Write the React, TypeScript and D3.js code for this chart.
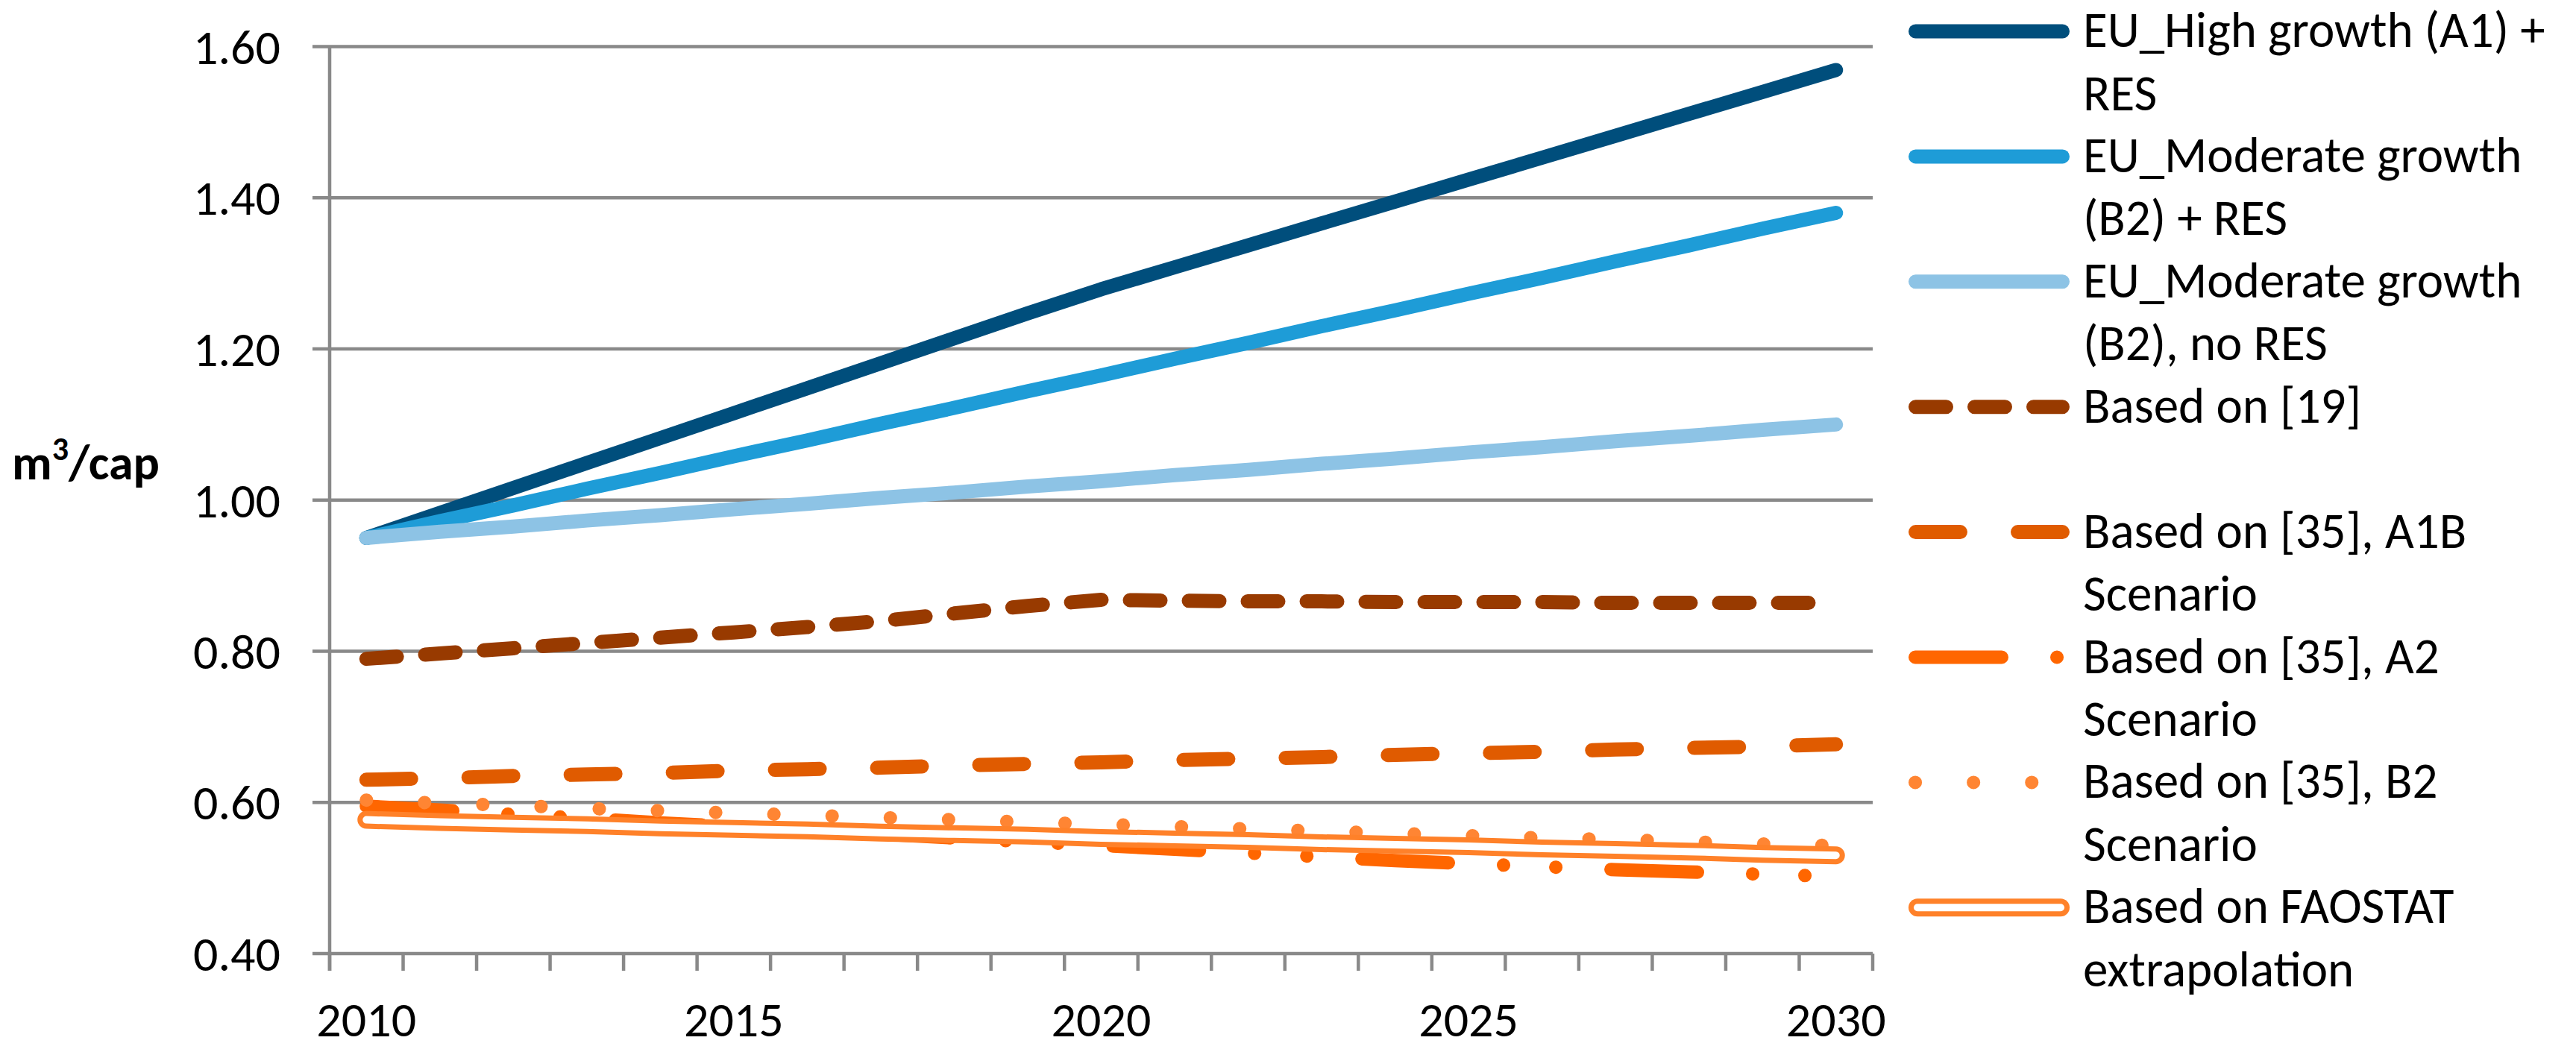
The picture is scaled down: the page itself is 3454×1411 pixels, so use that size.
import React, { useEffect, useRef } from 'react';
import * as d3 from 'd3';

// categories and tick labels
const years = [
  '2010', '2011', '2012', '2013', '2014', '2015', '2016', '2017', '2018', '2019', '2020',
  '2021', '2022', '2023', '2024', '2025', '2026', '2027', '2028', '2029', '2030',
];
const xLabels = ['2010', '2015', '2020', '2025', '2030'];
const yTicks = [0.4, 0.6, 0.8, 1.0, 1.2, 1.4, 1.6];

// series values (m3 per capita)
const highGrowthRes = [
  0.95, 0.983, 1.016, 1.049, 1.082, 1.115, 1.148, 1.181, 1.214, 1.247, 1.279,
  1.308, 1.337, 1.366, 1.395, 1.424, 1.453, 1.482, 1.511, 1.54, 1.569,
];
const moderateRes = [
  0.95, 0.972, 0.993, 1.015, 1.036, 1.058, 1.079, 1.101, 1.122, 1.144, 1.165,
  1.187, 1.208, 1.23, 1.251, 1.273, 1.294, 1.316, 1.337, 1.359, 1.38,
];
const moderateNoRes = [
  0.95, 0.958, 0.965, 0.973, 0.98, 0.988, 0.995, 1.003, 1.01, 1.018, 1.025,
  1.033, 1.04, 1.048, 1.055, 1.063, 1.07, 1.078, 1.085, 1.093, 1.1,
];
const basedOn19 = [
  0.79, 0.797, 0.804, 0.811, 0.818, 0.825, 0.832, 0.84, 0.85, 0.86, 0.868,
  0.867, 0.866, 0.866, 0.865, 0.865, 0.865, 0.864, 0.864, 0.864, 0.864,
];
const a1b = [
  0.63, 0.632, 0.635, 0.637, 0.639, 0.642, 0.644, 0.646, 0.649, 0.651, 0.653,
  0.656, 0.658, 0.66, 0.663, 0.665, 0.667, 0.67, 0.672, 0.674, 0.677,
];
const a2 = [
  0.595, 0.59, 0.584, 0.579, 0.573, 0.568, 0.563, 0.558, 0.553, 0.548, 0.543,
  0.538, 0.533, 0.528, 0.523, 0.519, 0.515, 0.511, 0.508, 0.505, 0.502,
];
const b2 = [
  0.603, 0.599, 0.596, 0.592, 0.589, 0.586, 0.583, 0.58, 0.577, 0.574, 0.571,
  0.568, 0.565, 0.562, 0.559, 0.556, 0.553, 0.551, 0.548, 0.545, 0.543,
];
const faostat = [
  0.577, 0.574, 0.572, 0.57, 0.567, 0.565, 0.563, 0.56, 0.558, 0.556, 0.553,
  0.551, 0.549, 0.546, 0.544, 0.542, 0.539, 0.537, 0.535, 0.532, 0.53,
];

const seriesValues = [highGrowthRes, moderateRes, moderateNoRes, basedOn19, a1b, a2, b2, faostat];
const seriesNames = [
  ['EU_High growth (A1) +', 'RES'],
  ['EU_Moderate growth', '(B2) + RES'],
  ['EU_Moderate growth', '(B2), no RES'],
  ['Based on [19]'],
  ['Based on [35], A1B', 'Scenario'],
  ['Based on [35], A2', 'Scenario'],
  ['Based on [35], B2', 'Scenario'],
  ['Based on FAOSTAT', 'extrapolation'],
];

type LineStyle = { color: string; width: number; dash?: string; double?: boolean };
const lineStyles: LineStyle[] = [
  { color: '#004E7C', width: 19 },
  { color: '#1E9CD7', width: 19 },
  { color: '#8DC3E5', width: 19 },
  { color: '#983A00', width: 19, dash: '41 38' },
  { color: '#E05B00', width: 19, dash: '60 77' },
  { color: '#FF6600', width: 18, dash: '116 74 0.1 70 0.1 74' },
  { color: '#FF8533', width: 18, dash: '0.1 78' },
  { color: '#FF8129', width: 24, double: true },
];

const FONT = "Carlito, Lato, 'Open Sans', sans-serif";
const FS = 66;

const App: React.FC = () => {
  const svgRef = useRef<SVGSVGElement | null>(null);

  useEffect(() => {
    if (!svgRef.current) return;
    const W = 3454;
    const H = 1411;
    const plot = { left: 442, right: 2511, top: 62.5, bottom: 1279 };
    const gridColor = '#898989';

    const svg = d3.select(svgRef.current).attr('width', W).attr('height', H);
    svg.selectAll('*').remove();
    svg.append('rect').attr('width', W).attr('height', H).attr('fill', '#fff');

    const x = d3.scaleBand<string>().domain(years).range([plot.left, plot.right]).padding(0);
    const y = d3.scaleLinear().domain([0.4, 1.6]).range([plot.bottom, plot.top]);
    const cx = (yr: string) => (x(yr) ?? 0) + x.bandwidth() / 2;

    // gridlines + left ticks
    yTicks.forEach(t => {
      svg
        .append('line')
        .attr('x1', plot.left - 23)
        .attr('x2', plot.right)
        .attr('y1', y(t))
        .attr('y2', y(t))
        .attr('stroke', gridColor)
        .attr('stroke-width', 4.5);
      svg
        .append('text')
        .attr('x', 376)
        .attr('y', y(t) + 23)
        .attr('text-anchor', 'end')
        .attr('font-family', FONT)
        .attr('font-size', FS)
        .attr('fill', '#000')
        .text(d3.format('.2f')(t));
    });

    // y axis line
    svg
      .append('line')
      .attr('x1', plot.left)
      .attr('x2', plot.left)
      .attr('y1', plot.top)
      .attr('y2', plot.bottom + 23)
      .attr('stroke', gridColor)
      .attr('stroke-width', 4.5);

    // x ticks at category boundaries
    const bounds = years.map(yr => x(yr) ?? 0).concat([plot.right]);
    bounds.forEach(bx => {
      svg
        .append('line')
        .attr('x1', bx)
        .attr('x2', bx)
        .attr('y1', plot.bottom)
        .attr('y2', plot.bottom + 23)
        .attr('stroke', gridColor)
        .attr('stroke-width', 4.5);
    });

    xLabels.forEach(lbl => {
      svg
        .append('text')
        .attr('x', cx(lbl))
        .attr('y', 1390)
        .attr('text-anchor', 'middle')
        .attr('font-family', FONT)
        .attr('font-size', FS)
        .attr('fill', '#000')
        .text(lbl);
    });

    // y axis title
    const title = svg
      .append('text')
      .attr('x', 16)
      .attr('y', 643)
      .attr('font-family', FONT)
      .attr('font-size', FS)
      .attr('font-weight', 'bold')
      .attr('fill', '#000');
    title.append('tspan').text('m');
    title.append('tspan').attr('font-size', 44).attr('dy', -26).text('3');
    title.append('tspan').attr('dy', 26).text('/cap');

    // series lines
    const line = d3
      .line<number>()
      .x((_, i) => cx(years[i]))
      .y(d => y(d));

    const drawStroke = (
      g: d3.Selection<SVGGElement, unknown, null, undefined>,
      d: string,
      st: LineStyle
    ) => {
      g.append('path')
        .attr('d', d)
        .attr('fill', 'none')
        .attr('stroke', st.color)
        .attr('stroke-width', st.width)
        .attr('stroke-linecap', 'round')
        .attr('stroke-linejoin', 'round')
        .attr('stroke-dasharray', st.dash ?? null);
      if (st.double) {
        g.append('path')
          .attr('d', d)
          .attr('fill', 'none')
          .attr('stroke', '#fff')
          .attr('stroke-width', st.width - 14)
          .attr('stroke-linecap', 'round')
          .attr('stroke-linejoin', 'round');
      }
    };

    const linesG = svg.append('g');
    seriesValues.forEach((vals, i) => {
      drawStroke(linesG, line(vals) ?? '', lineStyles[i]);
    });

    // legend
    const legend = svg.append('g');
    const rowY0 = 42;
    const rowPitch = 167.9;
    const lx0 = 2559;
    const lx1 = 2775;
    seriesNames.forEach((lines, i) => {
      const ry = rowY0 + i * rowPitch;
      const st = lineStyles[i];
      const half = st.width / 2;
      drawStroke(legend, `M${lx0 + half},${ry}L${lx1 - half},${ry}`, st);
      lines.forEach((txt, j) => {
        legend
          .append('text')
          .attr('x', 2793)
          .attr('y', ry + 21 + j * 84.5)
          .attr('font-family', FONT)
          .attr('font-size', FS + 1)
          .attr('fill', '#000')
          .text(txt);
      });
    });
  }, []);

  return (
    <svg
      ref={svgRef}
      style={{ position: 'absolute', left: 0, top: 0, display: 'block' }}
    />
  );
};

export default App;
